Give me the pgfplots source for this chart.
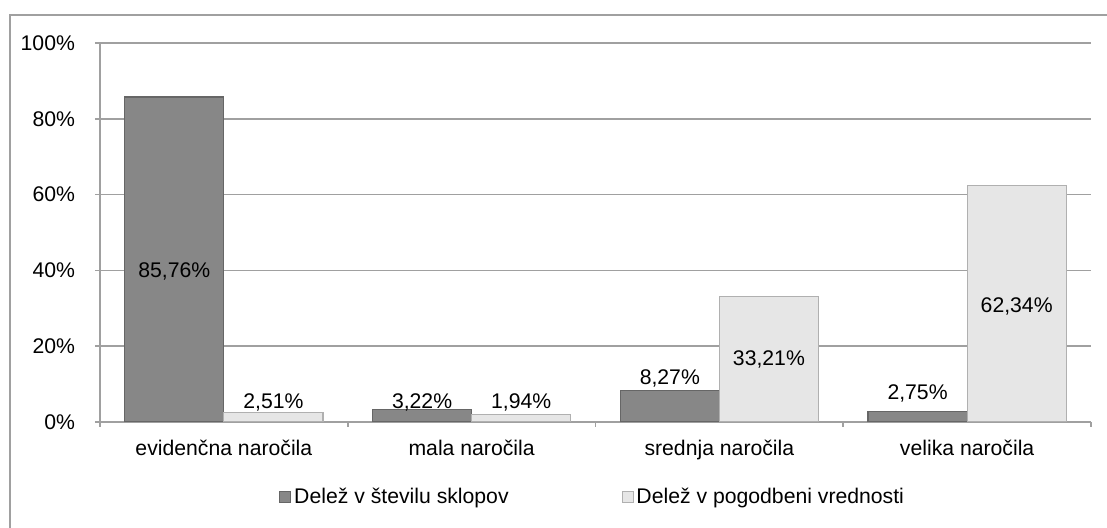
\documentclass[border=0pt]{standalone}
\usepackage{fontspec}
\setmainfont{Liberation Sans}
\usepackage{pgfplots}
\pgfplotsset{compat=1.18}
\definecolor{darkbar}{HTML}{878787}
\definecolor{darkedge}{HTML}{666666}
\definecolor{lightbar}{HTML}{E6E6E6}
\definecolor{lightedge}{HTML}{B0B0B0}
\definecolor{gridc}{HTML}{A0A0A0}
\begin{document}
\begin{tikzpicture}[font=\fontsize{10.6}{12.7}\selectfont]
\useasboundingbox (0,0) rectangle (553.5pt,264pt);
\draw[gridc, line width=0.8pt] (5pt,-5pt) -- (5pt,256.5pt) -- (560pt,256.5pt);
\begin{axis}[
  scale only axis,
  width=495.5pt, height=189.5pt,
  at={(50pt,53pt)}, anchor=south west,
  xmin=-0.5, xmax=3.5, ymin=0, ymax=100,
  ybar=0pt, bar width=0.4,
  axis lines*=left,
  axis line style={gridc, line width=0.8pt},
  tick align=outside,
  xtick={0,1,2,3},
  xticklabels={evidenčna naročila, mala naročila, srednja naročila, velika naročila},
  major x tick style={draw=none},
  minor xtick={-0.5,0.5,1.5,2.5,3.5},
  minor tick length=2.5pt,
  minor x tick style={gridc, line width=0.8pt},
  xticklabel style={yshift=-3pt},
  ytick={0,20,40,60,80,100},
  yticklabels={0\%,20\%,40\%,60\%,80\%,100\%},
  major tick length=2.5pt,
  major y tick style={gridc, line width=0.8pt},
  yticklabel style={xshift=-6.5pt},
  ymajorgrids,
  grid style={gridc, line width=0.8pt},
  legend columns=2,
  legend style={at={(0.1746,-0.198)}, anchor=west, draw=none, fill=none,
    /tikz/every even column/.append style={column sep=55pt},
    nodes={inner sep=1.5pt}},
  legend cell align=left,
]
\addplot[fill=darkbar, draw=darkedge, line width=0.6pt,
  legend image code/.code={\draw[fill=darkbar, draw=darkedge, line width=0.4pt] (0pt,-2.75pt) rectangle (5.5pt,2.75pt);}]
  coordinates {(0,85.76) (1,3.22) (2,8.27) (3,2.75)};
\addlegendentry{Delež v številu sklopov}
\addplot[fill=lightbar, draw=lightedge, line width=0.6pt,
  legend image code/.code={\draw[fill=lightbar, draw=lightedge, line width=0.4pt] (0pt,-2.75pt) rectangle (5.5pt,2.75pt);}]
  coordinates {(0,2.51) (1,1.94) (2,33.21) (3,62.34)};
\addlegendentry{Delež v pogodbeni vrednosti}
\node at (axis cs:-0.2,39.6) {85,76\%};
\node at (axis cs:0.2,5.2) {2,51\%};
\node at (axis cs:0.8,5.2) {3,22\%};
\node at (axis cs:1.2,5.2) {1,94\%};
\node at (axis cs:1.8,11.6) {8,27\%};
\node at (axis cs:2.2,16.6) {33,21\%};
\node at (axis cs:2.8,7.6) {2,75\%};
\node at (axis cs:3.2,30.5) {62,34\%};
\end{axis}
\end{tikzpicture}
\end{document}
